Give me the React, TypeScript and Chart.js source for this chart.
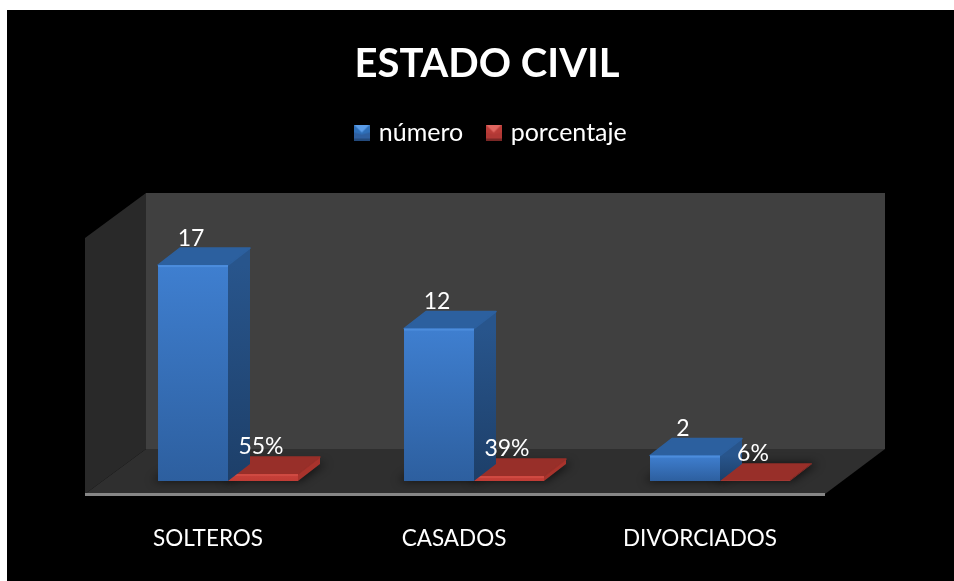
import React, { useEffect, useRef } from "react";
import { Chart, registerables } from "chart.js";

Chart.register(...registerables);

const categories = ["SOLTEROS", "CASADOS", "DIVORCIADOS"];
const numero = [17, 12, 2];
const porcentaje = [0.55, 0.39, 0.06];
const seriesNames = ["número", "porcentaje"];
const axisMax = 20;

const FONT = "Lato, Carlito, Calibri, sans-serif";
const BAR_DX = 22;
const BAR_DY = -17;

const PAL = [
  { hi: "#3f7fd0", lo: "#2d5f9f", topA: "#2c609f", sideA: "#28558c", sideB: "#1d3f69", edge: "#4c8ddd", key: ["#5a9ce8", "#2f6fb8", "#2f5f9f", "#234a7c"] },
  { hi: "#c8403a", lo: "#c03c35", topA: "#982f29", sideA: "#a8332c", sideB: "#a8332c", edge: "#cf4a42", key: ["#e06660", "#b93c38", "#b03835", "#7a2725"] },
];

function makeKey(c: string[]) {
  const cv = document.createElement("canvas");
  cv.width = 16;
  cv.height = 16;
  const x = cv.getContext("2d")!;
  const tri = (pts: number[][], col: string) => {
    x.fillStyle = col;
    x.beginPath();
    pts.forEach((p, i) => (i ? x.lineTo(p[0], p[1]) : x.moveTo(p[0], p[1])));
    x.closePath();
    x.fill();
  };
  x.fillStyle = c[2];
  x.fillRect(0, 8, 16, 8);
  tri([[8, 3], [16, 0], [16, 8], [8, 10], [0, 8], [0, 0]], c[1]);
  tri([[0, 0], [16, 0], [8, 8]], c[0]);
  x.fillStyle = c[3];
  x.fillRect(0, 14, 16, 2);
  return cv;
}

function poly(ctx: CanvasRenderingContext2D, pts: number[][], fill: string | CanvasGradient, round = false) {
  ctx.fillStyle = fill;
  ctx.beginPath();
  pts.forEach((p, i) => (i ? ctx.lineTo(p[0], p[1]) : ctx.moveTo(p[0], p[1])));
  ctx.closePath();
  ctx.fill();
  if (round) {
    ctx.strokeStyle = fill;
    ctx.lineWidth = 1.5;
    ctx.lineJoin = "round";
    ctx.stroke();
  }
}

const scenePlugin = {
  id: "scene",
  afterLayout(chart: any) {
    chart.titleBlock.left += 13;
    chart.titleBlock.right += 13;
    chart.legend.left += 18;
    chart.legend.right += 18;
    chart.legend.top -= 72;
    chart.legend.bottom -= 72;
  },
  beforeDraw(chart: any) {
    const { ctx, chartArea: a, width, height } = chart;
    ctx.save();
    ctx.fillStyle = "#000";
    ctx.fillRect(7, 10, width - 7, height - 10);
    const lf = a.left - 20;
    const rf = a.right - 18;
    const bf = a.bottom + 13;
    const tf = a.top + 11;
    const dx = 61;
    const dxr = 60;
    const dy = -45;
    poly(ctx, [[lf + dx, tf + dy], [rf + dxr, tf + dy], [rf + dxr, bf + dy], [lf + dx, bf + dy]], "#404040");
    poly(ctx, [[lf, tf], [lf + dx, tf + dy], [lf + dx, bf + dy], [lf, bf]], "#292929");
    poly(ctx, [[lf, bf], [lf + dx, bf + dy], [rf + dxr, bf + dy], [rf, bf]], "#2f2f2f");
    ctx.fillStyle = "#868686";
    ctx.fillRect(lf, bf - 1, rf - lf, 3);
    ctx.restore();
  },
  beforeDatasetsDraw(chart: any) {
    const { ctx } = chart;
    ctx.save();
    ctx.filter = "blur(5px)";
    chart.data.datasets.forEach((_: any, di: number) => {
      chart.getDatasetMeta(di).data.forEach((b: any) => {
        const l = b.x - b.width / 2;
        const r = b.x + b.width / 2;
        const y = b.base;
        poly(ctx, [[l - 6, y], [r + 2, y], [r + BAR_DX + 6, y + BAR_DY - 1], [l + BAR_DX, y + BAR_DY - 1]], "rgba(0,0,0,0.65)");
      });
    });
    ctx.restore();
  },
  beforeDatasetDraw(chart: any, args: any) {
    const { ctx } = chart;
    const p = PAL[args.index];
    ctx.save();
    chart.getDatasetMeta(args.index).data.forEach((b: any) => {
      const l = b.x - b.width / 2;
      const r = b.x + b.width / 2;
      const t = b.y;
      const y = b.base;
      const side = ctx.createLinearGradient(0, t, 0, y);
      side.addColorStop(0, p.sideA);
      side.addColorStop(1, p.sideB);
      poly(ctx, [[r, t], [r + BAR_DX, t + BAR_DY], [r + BAR_DX, y + BAR_DY], [r, y]], side);
      poly(ctx, [[l, t], [l + BAR_DX, t + BAR_DY], [r + BAR_DX, t + BAR_DY], [r, t]], p.topA, b.base - b.y >= 2);
    });
    ctx.restore();
  },
  afterDatasetDraw(chart: any, args: any) {
    const { ctx } = chart;
    const p = PAL[args.index];
    ctx.save();
    chart.getDatasetMeta(args.index).data.forEach((b: any) => {
      const l = b.x - b.width / 2;
      const r = b.x + b.width / 2;
      if (b.base - b.y < 2) return;
      ctx.fillStyle = p.edge;
      ctx.fillRect(l, b.y, r - l, 2);
    });
    ctx.restore();
  },
  afterDatasetsDraw(chart: any) {
    const { ctx } = chart;
    ctx.save();
    ctx.fillStyle = "#fff";
    ctx.font = `23px ${FONT}`;
    ctx.textAlign = "center";
    ctx.textBaseline = "middle";
    chart.data.datasets.forEach((ds: any, di: number) => {
      chart.getDatasetMeta(di).data.forEach((b: any, i: number) => {
        const v = ds.data[i];
        const text = di === 0 ? String(v) : `${Math.round(v * 100)}%`;
        ctx.fillText(text, b.x - 2, b.y - 27);
      });
    });
    ctx.restore();
  },
};

export default function App() {
  const ref = useRef<HTMLCanvasElement>(null);
  useEffect(() => {
    const faces = (di: number) => (c: any) => {
      const ch = c.chart;
      if (!ch.chartArea || c.raw === undefined) return PAL[di].hi;
      const y = ch.scales.y;
      const g = ch.ctx.createLinearGradient(0, y.getPixelForValue(c.raw), 0, y.getPixelForValue(0));
      g.addColorStop(0, PAL[di].hi);
      g.addColorStop(1, PAL[di].lo);
      return g;
    };
    const keys = PAL.map((p) => makeKey(p.key));
    const chart = new Chart(ref.current!, {
      type: "bar",
      data: {
        labels: categories,
        datasets: [
          { label: seriesNames[0], data: numero, backgroundColor: faces(0), borderWidth: 0 },
          { label: seriesNames[1], data: porcentaje, backgroundColor: faces(1), borderWidth: 0 },
        ],
      },
      options: {
        animation: false,
        responsive: false,
        layout: { padding: { left: 105, right: 111, top: 10, bottom: 20 } },
        datasets: { bar: { categoryPercentage: 0.569, barPercentage: 1 } },
        plugins: {
          title: {
            display: true,
            text: "ESTADO CIVIL",
            color: "#fff",
            font: { family: FONT, size: 40, weight: "bold" },
            padding: { top: 30, bottom: 78 },
          },
          legend: {
            position: "top",
            labels: {
              color: "#fff",
              font: { family: FONT, size: 25 },
              usePointStyle: true,
              pointStyleWidth: 9,
              padding: 26,
              generateLabels: () =>
                seriesNames.map((n, i) => ({
                  text: n,
                  pointStyle: keys[i],
                  fontColor: "#fff",
                  datasetIndex: i,
                  lineWidth: 0,
                  strokeStyle: "transparent",
                  fillStyle: "transparent",
                })),
            },
          },
          tooltip: { enabled: false },
        },
        scales: {
          x: {
            grid: { display: false },
            border: { display: false },
            afterFit: (s: any) => {
              s.height = 80;
            },
            ticks: { color: "#fff", font: { family: FONT, size: 22.5 }, labelOffset: -20, padding: 36, maxRotation: 0 },
          },
          y: { display: false, min: 0, max: axisMax },
        },
      } as any,
      plugins: [scenePlugin],
    });
    return () => chart.destroy();
  }, []);
  return (
    <div style={{ position: "absolute", left: 0, top: 0, width: 954, height: 581 }}>
      <canvas ref={ref} width={954} height={581} style={{ display: "block" }} />
    </div>
  );
}
